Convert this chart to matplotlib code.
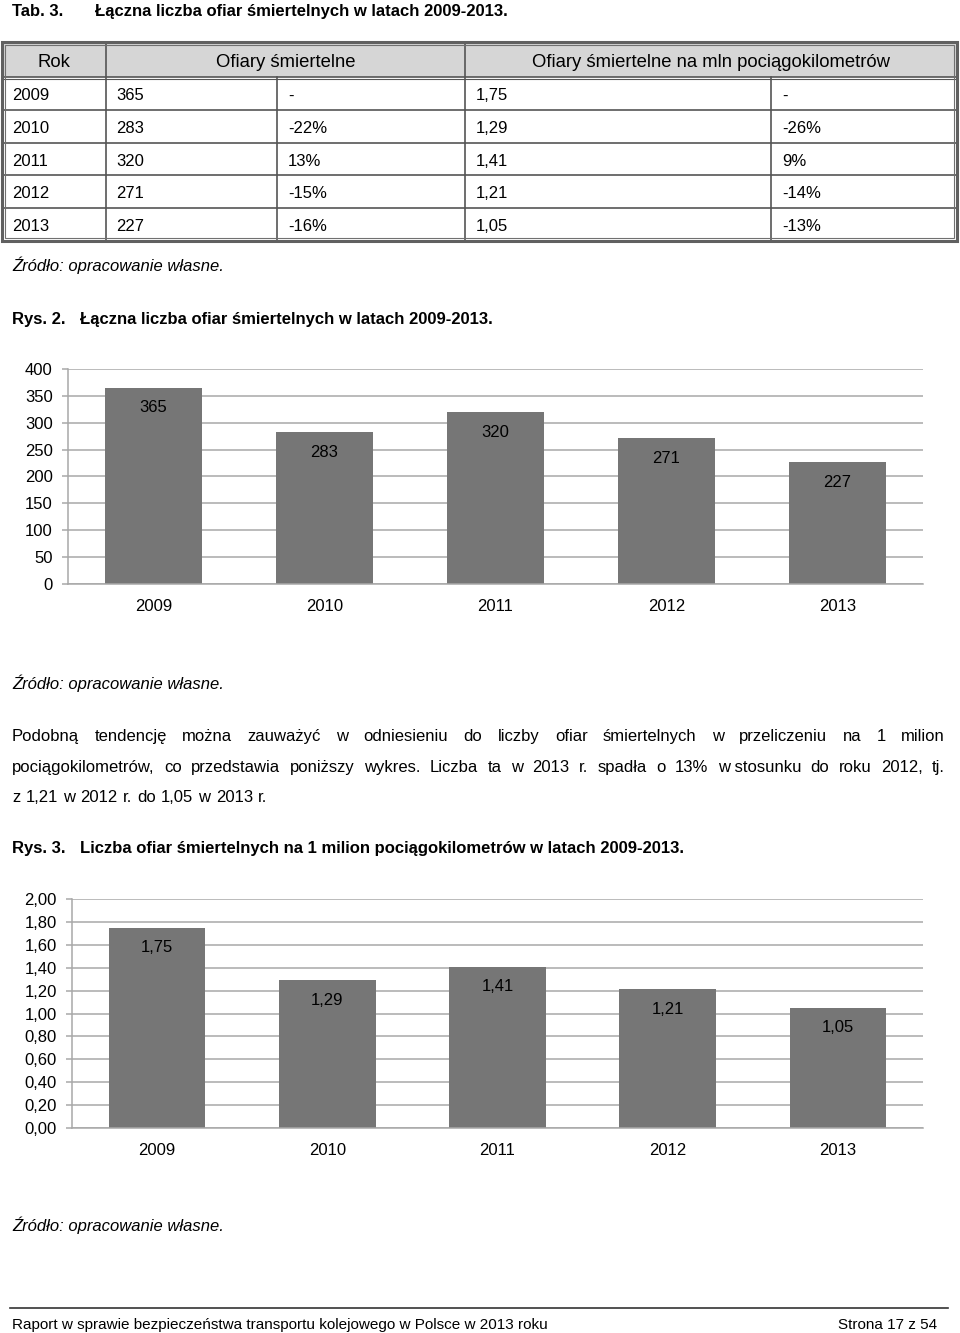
import matplotlib
matplotlib.use("Agg")
import matplotlib.pyplot as plt
from matplotlib.patches import Rectangle
from matplotlib import font_manager

# ---------------- data ----------------
years = ["2009", "2010", "2011", "2012", "2013"]
deaths = [365, 283, 320, 271, 227]
deaths_change = ["-", "-22%", "13%", "-15%", "-16%"]
per_mln = [1.75, 1.29, 1.41, 1.21, 1.05]
per_mln_change = ["-", "-26%", "9%", "-14%", "-13%"]

header = ["Rok", "Ofiary śmiertelne", "Ofiary śmiertelne na mln pociągokilometrów"]
y1_ticks = [0, 50, 100, 150, 200, 250, 300, 350, 400]
y2_ticks = [0.0, 0.2, 0.4, 0.6, 0.8, 1.0, 1.2, 1.4, 1.6, 1.8, 2.0]

def pl(v, d=2):
    return f"{v:.{d}f}".replace(".", ",")

# ---------------- fonts ----------------
FONT = ["Liberation Sans", "DejaVu Sans"]
names = {f.name for f in font_manager.fontManager.ttflist}
NARROW = ["Liberation Sans Narrow", "Liberation Sans", "DejaVu Sans"] if "Liberation Sans Narrow" in names else FONT
plt.rcParams["font.family"] = FONT
FS = 12

W, H = 960, 1333
fig = plt.figure(figsize=(W / 100, H / 100), dpi=100)
fig.patch.set_facecolor("white")

page = fig.add_axes([0, 0, 1, 1])
page.set_xlim(0, W)
page.set_ylim(H, 0)
page.axis("off")
page.patch.set_visible(False)

TXT = "#000000"

def t(x, y, s, **kw):
    # y is the vertical centre of the capital letters
    kw.setdefault("fontsize", FS)
    kw.setdefault("color", TXT)
    cap = kw["fontsize"] * 100 / 72 * 0.716
    return page.text(x, y + cap / 2, s, va="baseline", **kw)

# ---------------- title ----------------
t(12, 10, "Tab. 3.", weight="bold")
t(95, 10, "Łączna liczba ofiar śmiertelnych w latach 2009-2013.", weight="bold")

# ---------------- table ----------------
tx0, tx1 = 2, 957
ty0, thead = 42, 77
row_lines = [77, 110, 143, 175, 208, 241]
col_main = [106, 465]
col_sub = [277, 771]

page.add_patch(Rectangle((tx0, ty0), tx1 - tx0, thead - ty0, facecolor="#d6d6d6", edgecolor="none", zorder=1))
LC = "#555555"
for yy in row_lines[:-1]:
    page.plot([tx0, tx1], [yy, yy], color=LC, lw=1.2, zorder=2)
page.plot([tx0, tx1], [thead + 2, thead + 2], color=LC, lw=0.8, zorder=2)
for xx in col_main:
    page.plot([xx, xx], [ty0, row_lines[-1]], color=LC, lw=1.2, zorder=2)
for xx in col_sub:
    page.plot([xx, xx], [thead, row_lines[-1]], color=LC, lw=1.2, zorder=2)
page.add_patch(Rectangle((tx0, ty0), tx1 - tx0, row_lines[-1] - ty0, facecolor="none", edgecolor="#606060", lw=2.2, zorder=3))
page.add_patch(Rectangle((tx0 + 3, ty0 + 3), tx1 - tx0 - 6, row_lines[-1] - ty0 - 6, facecolor="none", edgecolor="#707070", lw=0.8, zorder=3))

hy = (ty0 + thead) / 2 + 1
HFS = 13.3
t((tx0 + col_main[0]) / 2, hy, header[0], ha="center", zorder=4, fontsize=HFS)
t((col_main[0] + col_main[1]) / 2, hy, header[1], ha="center", zorder=4, fontsize=HFS)
t((col_main[1] + tx1) / 2, hy, header[2], ha="center", zorder=4, fontsize=HFS)

for i in range(len(years)):
    yc = (row_lines[i] + row_lines[i + 1]) / 2 + 1
    t(12, yc, years[i], zorder=4)
    t(116, yc, str(deaths[i]), zorder=4)
    t(288, yc, deaths_change[i], zorder=4)
    t(476, yc, pl(per_mln[i]), zorder=4)
    t(782, yc, per_mln_change[i], zorder=4)

t(12, 265, "Źródło: opracowanie własne.", style="italic")

# ---------------- figure captions ----------------
t(12, 318, "Rys. 2.", weight="bold")
t(80, 318, "Łączna liczba ofiar śmiertelnych w latach 2009-2013.", weight="bold")

BAR = "#767676"
GRID = "#a8a8a8"

def bar_chart(rect_px, values, ymax, ticks, fmt, label_fmt):
    l, r, top, bot = rect_px
    ax = fig.add_axes([l / W, 1 - bot / H, (r - l) / W, (bot - top) / H])
    x = list(range(len(values)))
    bars = ax.bar(x, values, width=0.567, color=BAR, zorder=2)
    ax.set_xlim(-0.5, len(values) - 0.5)
    ax.set_ylim(0, ymax)
    ax.set_yticks(ticks)
    ax.set_yticklabels([fmt(v) for v in ticks])
    ax.set_xticks(x)
    ax.set_xticklabels(years)
    ax.yaxis.grid(True, color=GRID, lw=1.1, zorder=0)
    ax.set_axisbelow(True)
    for s in ["top", "right"]:
        ax.spines[s].set_visible(False)
    for s in ["left", "bottom"]:
        ax.spines[s].set_color(GRID)
        ax.spines[s].set_linewidth(1.1)
    ax.tick_params(axis="y", length=4, color=GRID, width=1.1, pad=7, labelsize=FS, labelcolor=TXT)
    ax.tick_params(axis="x", length=0, pad=11, labelsize=FS, labelcolor=TXT)
    for b, v in zip(bars, values):
        ax.annotate(label_fmt(v), (b.get_x() + b.get_width() / 2, v), xytext=(0, -14.5),
                    textcoords="offset points", ha="center", va="center", fontsize=FS, color=TXT, zorder=3)
    ax.patch.set_visible(False)
    return ax

bar_chart((68, 923, 369, 584), deaths, 400, y1_ticks, lambda v: str(v), lambda v: str(v))

t(12, 683, "Źródło: opracowanie własne.", style="italic")

# ---------------- paragraph (justified) ----------------
renderer = fig.canvas.get_renderer()

def line_words(line, y, x0, x1=None, gap=None):
    words = line.split(" ")
    objs = [t(x0, y, w) for w in words]
    widths = [o.get_window_extent(renderer).width for o in objs]
    if gap is None:
        gap = (x1 - x0 - sum(widths)) / (len(words) - 1)
    x = x0
    for o, w in zip(objs, widths):
        o.set_x(x)
        x += w + gap

line_words("Podobną tendencję można zauważyć w odniesieniu do liczby ofiar śmiertelnych w przeliczeniu na 1 milion", 735, 12, 945)
line_words("pociągokilometrów, co przedstawia poniższy wykres. Liczba ta w 2013 r. spadła o 13% w\u00a0stosunku do roku 2012, tj.", 766, 12, 945)
line_words("z 1,21 w 2012 r. do 1,05 w 2013 r.", 796, 12, gap=5.2)

t(12, 847, "Rys. 3.", weight="bold")
t(80, 847, "Liczba ofiar śmiertelnych na 1 milion pociągokilometrów w latach 2009-2013.", weight="bold")

bar_chart((72, 923, 899, 1128), per_mln, 2.0, y2_ticks, lambda v: pl(v), lambda v: pl(v))

t(12, 1225, "Źródło: opracowanie własne.", style="italic")

# ---------------- footer ----------------
page.plot([10, 948], [1308, 1308], color="#333333", lw=1.2)
t(12, 1324, "Raport w sprawie bezpieczeństwa transportu kolejowego w Polsce w 2013 roku", family=NARROW, fontsize=11)
t(937, 1324, "Strona 17 z 54", family=NARROW, fontsize=11, ha="right")

fig.savefig("out.png", dpi=100)
